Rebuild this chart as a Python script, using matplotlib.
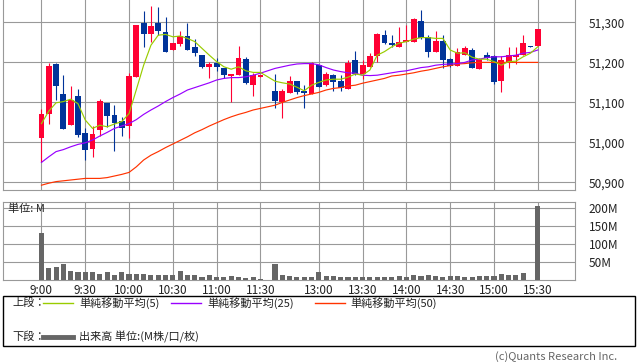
import numpy as np
from matplotlib import pyplot as plt
from matplotlib.patches import Rectangle
from matplotlib.lines import Line2D
from matplotlib.ticker import FuncFormatter

plt.rcParams['font.family'] = ['Noto Sans CJK JP', 'DejaVu Sans']

## Data ##
# 5-minute bars, slot 31 is the lunch gap
nan = np.nan
opens = [51012, 51071, 51196, 51121, 51043, 51116, 51024, 50984, 51032, 51098,
         51068, 51053, 51041, 51164, 51298, 51272, 51298, 51275, 51232, 51247,
         51266, 51239, 51218, 51189, 51199, 51185, 51167, 51169, 51208, 51143,
         51164, nan, 51129, 51102, 51124, 51153, 51129, 51122, 51193, 51143,
         51168, 51153, 51133, 51206, 51171, 51189, 51216, 51268, 51249, 51239,
         51252, 51252, 51303, 51263, 51227, 51253, 51208, 51192, 51218, 51231,
         51183, 51218, 51216, 51153, 51202, 51214, 51218, 51240, 51240]
highs = [51083, 51198, 51199, 51168, 51141, 51133, 51035, 51041, 51108, 51098,
         51093, 51064, 51173, 51293, 51328, 51341, 51339, 51314, 51249, 51278,
         51298, 51258, 51218, 51202, 51210, 51185, 51171, 51242, 51214, 51174,
         51169, nan, 51171, 51133, 51166, 51153, 51143, 51202, 51193, 51177,
         51170, 51168, 51206, 51229, 51206, 51224, 51273, 51281, 51268, 51288,
         51293, 51310, 51331, 51268, 51278, 51268, 51210, 51235, 51241, 51235,
         51210, 51225, 51218, 51216, 51239, 51239, 51268, 51240, 51283]
lows = [50952, 51047, 51106, 51033, 51043, 51014, 50956, 50964, 51016, 51039,
        50979, 51017, 51012, 51164, 51239, 51252, 51268, 51227, 51232, 51242,
        51231, 51217, 51185, 51162, 51179, 51160, 51102, 51169, 51146, 51116,
        51164, nan, 51085, 51062, 51124, 51121, 51087, 51122, 51139, 51141,
        51129, 51129, 51133, 51168, 51158, 51189, 51202, 51246, 51239, 51239,
        51252, 51252, 51258, 51213, 51227, 51185, 51189, 51190, 51218, 51185,
        51183, 51206, 51147, 51127, 51185, 51197, 51218, 51238, 51240]
closes = [51072, 51191, 51141, 51033, 51107, 51018, 50982, 51021, 51103, 51066,
          51049, 51037, 51166, 51293, 51270, 51291, 51279, 51227, 51249, 51266,
          51231, 51224, 51189, 51196, 51189, 51169, 51171, 51211, 51149, 51169,
          51169, nan, 51104, 51129, 51153, 51127, 51124, 51199, 51139, 51171,
          51152, 51135, 51199, 51171, 51193, 51216, 51271, 51248, 51244, 51252,
          51256, 51308, 51260, 51227, 51253, 51206, 51192, 51225, 51235, 51185,
          51208, 51212, 51152, 51206, 51218, 51218, 51248, 51239, 51283]

# volume in millions
volume = [132, 34, 37, 45, 26, 23, 23, 23, 18, 23,
          15, 23, 18, 18, 18, 15, 15, 15, 15, 26,
          15, 15, 9, 15, 9, 9, 12, 9, 6, 9,
          4, nan, 45, 15, 12, 9, 9, 9, 21, 12,
          12, 9, 9, 9, 9, 9, 9, 9, 9, 12,
          9, 15, 12, 15, 12, 9, 12, 12, 9, 9,
          12, 12, 12, 18, 15, 15, 20, 1, 205]

# moving averages
ma5 = [51047, 51078, 51099, 51102, 51108, 51097, 51056, 51035, 51043, 51039,
       51046, 51052, 51072, 51132, 51193, 51243, 51268, 51270, 51264, 51266,
       51260, 51252, 51235, 51218, 51202, 51189, 51183, 51189, 51179, 51175,
       51175, nan, 51153, 51149, 51146, 51138, 51129, 51143, 51150, 51156,
       51158, 51158, 51163, 51171, 51168, 51181, 51218, 51227, 51239, 51248,
       51252, 51258, 51262, 51262, 51260, 51260, 51231, 51223, 51224, 51213,
       51208, 51208, 51202, 51193, 51202, 51203, 51214, 51223, 51239]
ma25 = [50950, 50964, 50977, 50982, 50989, 50995, 50999, 51006, 51016, 51025,
        51035, 51041, 51047, 51057, 51070, 51081, 51091, 51102, 51112, 51121,
        51131, 51137, 51143, 51149, 51156, 51160, 51162, 51162, 51164, 51168,
        51173, nan, 51185, 51189, 51193, 51196, 51197, 51197, 51194, 51187,
        51181, 51177, 51174, 51173, 51168, 51167, 51168, 51171, 51174, 51177,
        51179, 51183, 51187, 51189, 51193, 51195, 51196, 51197, 51200, 51206,
        51208, 51212, 51214, 51214, 51216, 51218, 51223, 51225, 51231]
ma50 = [50893, 50898, 50902, 50904, 50906, 50908, 50910, 50910, 50910, 50912,
        50916, 50920, 50925, 50939, 50956, 50968, 50977, 50987, 50996, 51005,
        51014, 51024, 51032, 51041, 51049, 51057, 51064, 51070, 51075, 51081,
        51085, nan, 51093, 51100, 51106, 51112, 51117, 51121, 51125, 51131,
        51135, 51137, 51141, 51143, 51148, 51152, 51156, 51160, 51166, 51168,
        51171, 51174, 51178, 51181, 51185, 51189, 51192, 51196, 51197, 51199,
        51200, 51200, 51200, 51200, 51200, 51200, 51200, 51200, 51200]

time_pos = [0, 6, 12, 18, 24, 30, 38, 44, 50, 56, 62, 68]
time_labels = ['9:00', '9:30', '10:00', '10:30', '11:00', '11:30',
               '13:00', '13:30', '14:00', '14:30', '15:00', '15:30']
price_ticks = [50900, 51000, 51100, 51200, 51300]
vol_ticks = [50, 100, 150, 200]

o = np.array(opens, float)
h = np.array(highs, float)
l = np.array(lows, float)
c = np.array(closes, float)
x = np.arange(len(o))
ok = ~np.isnan(o)

UP = '#ff0033'
DOWN = '#003399'
GRID = '#999999'

W, H = 638, 362
fig = plt.figure(figsize=(W / 100, H / 100), dpi=100)

def px_axes(left, top, right, bottom):
    return fig.add_axes([left / W, 1 - bottom / H, (right - left) / W, (bottom - top) / H])

def style(ax):
    for s in ax.spines.values():
        s.set_color(GRID)
        s.set_linewidth(0.8)
    ax.spines['top'].set_visible(False)
    ax.set_xlim(-5.27, 73.1)
    ax.set_xticks(time_pos)
    ax.grid(True, color=GRID, linewidth=0.8, zorder=0)
    ax.set_axisbelow(True)
    ax.yaxis.tick_right()
    ax.tick_params(axis='y', length=0, pad=10, labelsize=8.5, colors='#222222')
    ax.tick_params(axis='x', length=0, pad=3, labelsize=8.5, colors='#222222')

## Price panel ##
ax = px_axes(3, 0, 575, 190)
style(ax)
up = ok & (c >= o)
dn = ok & (c < o)
for m, col in [(up, UP), (dn, DOWN)]:
    ax.vlines(x[m], l[m], h[m], color=col, linewidth=0.8, zorder=2)
    body = np.maximum(np.abs(c[m] - o[m]), 2.0)
    ax.bar(x[m], body, bottom=np.minimum(o[m], c[m]), width=0.8, color=col,
           linewidth=0, zorder=3)
for vals, col in [(ma50, '#ff3300'), (ma25, '#9900ff'), (ma5, '#99cc00')]:
    v = np.array(vals, float)
    ax.plot(x[ok], v[ok], color=col, linewidth=0.85, zorder=4)
ax.set_ylim(50881, 51356)
ax.set_yticks(price_ticks)
ax.yaxis.set_major_formatter(FuncFormatter(lambda v, p: f'{v:,.0f}'))
ax.set_xticklabels([])

## Volume panel ##
axv = px_axes(3, 202, 575, 280)
style(axv)
axv.spines['top'].set_visible(True)
vol = np.array(volume, float)
axv.bar(x[ok], vol[ok], width=0.7, color='#666666', linewidth=0, zorder=3)
axv.set_ylim(0, 217.5)
axv.set_yticks(vol_ticks)
axv.set_yticklabels([f'{v}M' for v in vol_ticks])
axv.set_xticklabels(time_labels)
axv.text(5 / 572, 1 - 7 / 78, '単位: M', transform=axv.transAxes, fontsize=8,
         va='center', ha='left', color='#222222', zorder=5)

## Legend box ##
fig.patches.append(Rectangle((3 / W, 1 - 346 / H), 632 / W, 50 / H,
                             transform=fig.transFigure, fill=False,
                             edgecolor='black', linewidth=1.0))

def fx(px):
    return px / W

def fy(py):
    return 1 - py / H

fig.text(fx(12), fy(303), '上段：', fontsize=8, va='center', color='#222222')
legend_items = [(43, 79, '#99cc00', '単純移動平均(5)'),
                (171, 207, '#9900ff', '単純移動平均(25)'),
                (315, 350, '#ff3300', '単純移動平均(50)')]
for x0, tx, col, label in legend_items:
    fig.lines.append(Line2D([fx(x0), fx(x0 + 30)], [fy(303), fy(303)],
                            transform=fig.transFigure, color=col, linewidth=1.0))
    fig.text(fx(tx), fy(303), label, fontsize=8, va='center', color='#222222')

fig.text(fx(12), fy(337), '下段：', fontsize=8, va='center', color='#222222')
fig.lines.append(Line2D([fx(43), fx(73)], [fy(337), fy(337)],
                        transform=fig.transFigure, color='#666666', linewidth=3.5))
fig.text(fx(79), fy(337), '出来高 単位:(M株/口/枚)', fontsize=8, va='center',
         color='#222222')

fig.text(fx(617), fy(357), '(c)Quants Research Inc.', fontsize=8, va='center',
         ha='right', color='#666666')

fig.savefig('out.png', dpi=100)
